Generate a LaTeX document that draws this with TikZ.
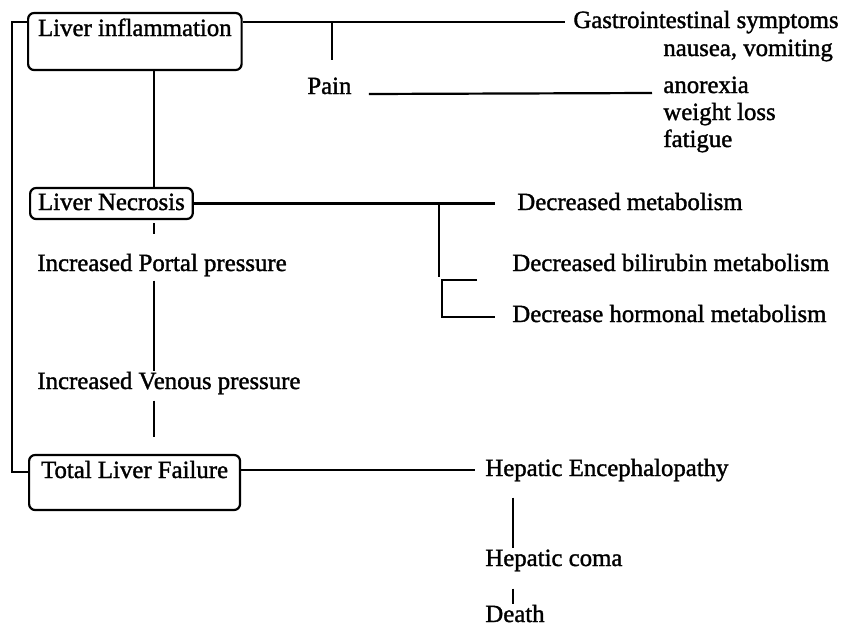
\documentclass[tikz,border=0pt]{standalone}
\usepackage{fontspec}
\setmainfont{Liberation Serif}[FakeBold=1.4]
\usetikzlibrary{calc}
\begin{document}
\begin{tikzpicture}[x=0.5pt,y=-0.5pt,
  every node/.style={font=\fontsize{12.4}{14}\selectfont},
  ln/.style={line width=1.1pt},
  txt/.style={inner sep=0, anchor=west, text height=8.6pt, text depth=2.6pt},
  box/.style={draw, line width=1.1pt, rounded corners=3pt, anchor=base west, inner ysep=0pt}
]
\useasboundingbox (0,0) rectangle (843,627);
% boxes
\node[box, inner xsep=5pt, text height=11.5pt, text depth=17pt] (infl) at (27,36) {Liver inflammation};
\node[box, inner xsep=4pt, text height=11pt, text depth=4.5pt] (nec) at (29,210) {Liver Necrosis};
\node[box, inner xsep=6pt, text height=11.5pt, text depth=16pt] (fail) at (28,478) {Total Liver Failure};
% texts
\node[txt] (gi) at (573,22) {Gastrointestinal symptoms};
\node[txt] (nv) at (663,50) {nausea, vomiting};
\node[txt] (pain) at (307,88) {Pain};
\node[txt] (anor) at (663,87) {anorexia};
\node[txt] (wl) at (663,114) {weight loss};
\node[txt] (fat) at (663,141) {fatigue};
\node[txt] (dm) at (517,204) {Decreased metabolism};
\node[txt] (dbm) at (512,265) {Decreased bilirubin metabolism};
\node[txt] (dhm) at (512,316) {Decrease hormonal metabolism};
\node[txt] (ipp) at (37,265) {Increased Portal pressure};
\node[txt] (ivp) at (37,383) {Increased Venous pressure};
\node[txt] (he) at (485,470) {Hepatic Encephalopathy};
\node[txt] (hc) at (485,560) {Hepatic coma};
\node[txt] (death) at (485,616) {Death};
% coordinates
\coordinate (lbb) at (12,472);
\coordinate (pt) at (332,60);
\coordinate (c) at (154,0);
\coordinate (v1) at (439,277);
\coordinate (b1) at (477,280);
\coordinate (b2) at (442,317);
\coordinate (hx) at (513,0);
% connectors
\draw[ln] (infl.east |- gi.west) -- ([xshift=-4pt]gi.west);
\draw[ln] (pt |- gi.west) -- (pt);
\draw[ln] ([xshift=8.5pt]pain.base east) -- ([xshift=-5.5pt]anor.base west);
\draw[ln] (infl.west |- gi.west) -| (lbb) -- (fail.west |- lbb);
\draw[ln] (c |- infl.south) -- (c |- nec.north);
\draw[ln, shorten <=1.5pt, shorten >=9.5pt] (c |- nec.south) -- (c |- ipp.north);
\draw[ln, shorten <=2pt] (c |- ipp.south) -- (c |- ivp.north);
\draw[ln, shorten <=3pt, shorten >=8.5pt] (c |- ivp.south) -- (c |- fail.north);
\draw[ln] (nec.east) -- ([xshift=-11pt]dm.west |- nec.east);
\draw[ln] (v1 |- nec.east) -- (v1);
\draw[ln] (b1) -| (b2) -- ([xshift=-8.5pt]dhm.west |- b2);
\draw[ln] (fail.east |- he.west) -- ([xshift=-5pt]he.west);
\draw[ln, shorten <=8pt] (hx |- he.south) -- (hx |- hc.north);
\draw[ln, shorten <=8.5pt] (hx |- hc.south) -- (hx |- death.north);
\end{tikzpicture}
\end{document}
